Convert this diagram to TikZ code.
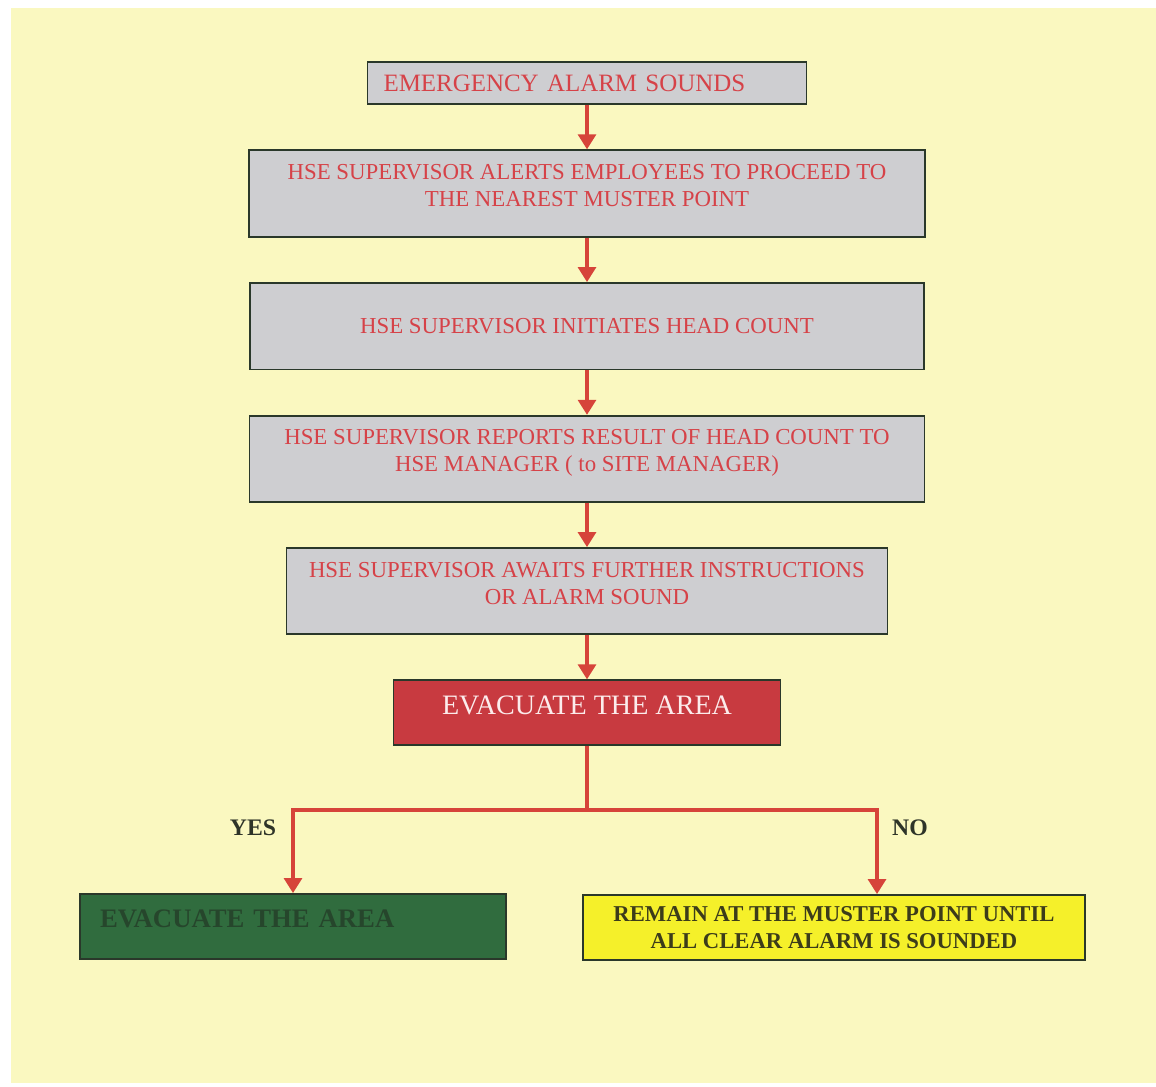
\documentclass[tikz,border=0pt]{standalone}
\usepackage{fontspec}
\setmainfont{Liberation Serif}
\usetikzlibrary{arrows.meta}
\usetikzlibrary{positioning}
\usetikzlibrary{calc}
\usetikzlibrary{chains}
\definecolor{paper}{RGB}{250,248,192}
\definecolor{frame}{RGB}{42,56,42}
\definecolor{stagefill}{RGB}{206,206,209}
\definecolor{stagetext}{RGB}{214,66,72}
\definecolor{flowred}{RGB}{214,68,58}
\definecolor{alertfill}{RGB}{200,58,64}
\definecolor{alerttext}{RGB}{252,236,236}
\definecolor{gofill}{RGB}{48,108,62}
\definecolor{gotext}{RGB}{38,70,44}
\definecolor{stayfill}{RGB}{245,240,42}
\definecolor{staytext}{RGB}{60,60,26}
\definecolor{answertext}{RGB}{46,52,40}
\newcommand{\sized}[1]{\fontsize{#1}{15.4}\selectfont}

\begin{document}
\begin{tikzpicture}[
        start chain=going below,
        node distance=0.89cm,
        every node/.style={font=\sized{13}},
        stage/.style={rectangle,draw=frame,line width=1pt,fill=stagefill,
                      text=stagetext,align=center,minimum height=1.73cm,inner sep=2pt},
        lift/.style={text depth=9pt},
        alert/.style={rectangle,draw=frame,line width=1pt,fill=alertfill,
                      text=alerttext,font=\sized{16},minimum width=7.74cm,minimum height=1.3cm},
        gobox/.style={rectangle,draw=frame,line width=1pt,fill=gofill,text=gotext,
                      font=\sized{15.2}\bfseries,text width=7.72cm,inner xsep=0.4cm,
                      align=left,minimum height=1.3cm},
        staybox/.style={rectangle,draw=frame,line width=1pt,fill=stayfill,text=staytext,
                        font=\sized{12.9}\bfseries,align=center,minimum width=10.04cm,minimum height=1.3cm},
        answer/.style={font=\sized{13.5}\bfseries,text=answertext},
        wire/.style={draw=flowred,line width=2.2pt},
        flow/.style={wire,-{Triangle[width=10pt,length=8.5pt]}}
      ]
      % page and background
      \fill[white] (0,0) rectangle (23.12,-21.74);
      \fill[paper] (0.22,-0.16) rectangle (23.12,-21.66);
      \useasboundingbox (0,0) rectangle (23.12,-21.74);

      % main sequence
      \node[stage,on chain,align=left,text width=8.14cm,inner xsep=0.32cm,minimum height=0.84cm,font=\sized{14.2}] (alarm) at (11.74,-1.66) {EMERGENCY ALARM SOUNDS};
      \node[stage,lift,on chain,join=by flow,minimum width=13.52cm] (muster) {HSE SUPERVISOR ALERTS EMPLOYEES TO PROCEED TO\\THE NEAREST MUSTER POINT};
      \node[stage,on chain,join=by flow,minimum width=13.48cm] (count) {HSE SUPERVISOR INITIATES HEAD COUNT};
      \node[stage,lift,on chain,join=by flow,minimum width=13.5cm,minimum height=1.72cm] (report) {HSE SUPERVISOR REPORTS RESULT OF HEAD COUNT TO\\HSE MANAGER ( to SITE MANAGER)};
      \node[stage,lift,on chain,join=by flow,minimum width=12.02cm,minimum height=1.72cm] (await) {HSE SUPERVISOR AWAITS FURTHER INSTRUCTIONS\\OR ALARM SOUND};
      \node[alert,lift,on chain,join=by flow] (evac) {EVACUATE THE AREA};

      % branches
      \coordinate[below=1.28cm of evac] (split);
      \node[gobox,lift] (go) at (5.86,-18.53) {EVACUATE THE AREA};
      \node[staybox] (stay) at (16.68,-18.55) {REMAIN AT THE MUSTER POINT UNTIL\\ALL CLEAR ALARM IS SOUNDED};
      \coordinate (stayin) at ($(stay.north)+(0.86,0)$);
      \draw[wire] (evac.south) -- (split);
      \draw[flow] (split) -| (go.north);
      \draw[flow] (split) -| (stayin);
      \node[answer] (yes) at (5.06,-16.56) {YES};
      \node[answer] (no) at (18.2,-16.56) {NO};
\end{tikzpicture}
\end{document}
